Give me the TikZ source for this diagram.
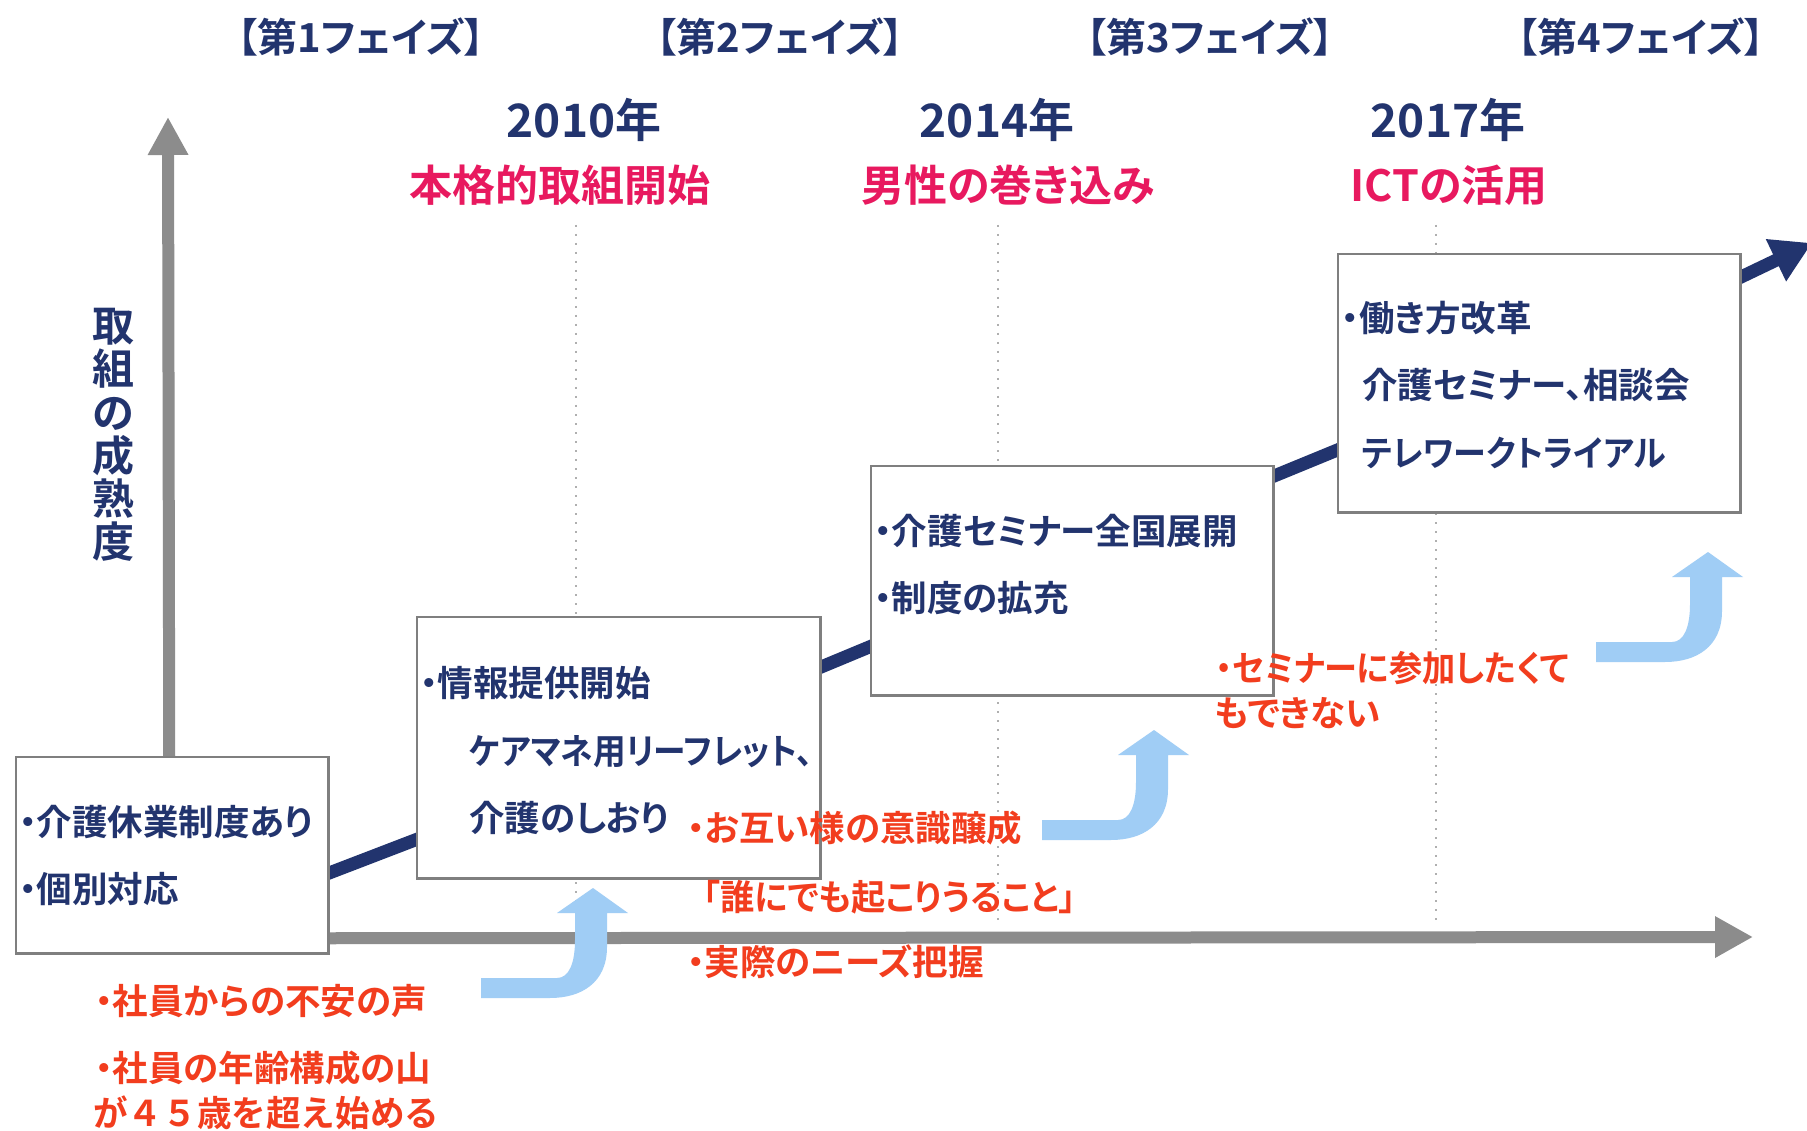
\documentclass[tikz,border=0pt]{standalone}
\usepackage{fontspec}
\setmainfont{Noto Sans CJK JP Bold}[RawFeature=+palt]
\newfontfamily\jpfull{Noto Sans CJK JP Bold}
\usetikzlibrary{arrows.meta}
\definecolor{navy}{HTML}{22346E}
\definecolor{pinkred}{HTML}{E8195F}
\definecolor{redor}{HTML}{F23D1E}
\definecolor{lblue}{HTML}{A0CDF5}
\definecolor{axisgray}{HTML}{8C8C8C}
\definecolor{boxgray}{HTML}{7F7F7F}
\tikzset{
  phase/.style={font=\fontsize{40}{46}\selectfont, text=navy, inner sep=0},
  year/.style={font=\fontsize{46}{52}\selectfont, text=navy, inner sep=0},
  theme/.style={font=\fontsize{43}{49}\selectfont, text=pinkred, inner sep=0},
  navytxt/.style={font=\fontsize{35.5}{42}\selectfont, text=navy, anchor=west, inner sep=0},
  redtxt/.style={font=\fontsize{35.5}{45}\selectfont, text=redor, anchor=west, inner sep=0},
  stagebox/.style={draw=boxgray, line width=2.5pt, fill=white, inner sep=0, anchor=north west},
  axisline/.style={draw=axisgray, line width=12pt},
  rise/.style={draw=navy, line width=13pt, shorten <=-8pt, shorten >=-8pt},
  guide/.style={draw=axisgray!70, line width=1.8pt, dash pattern=on 2pt off 7pt},
  bluearrow/.style={fill=lblue}
}
\begin{document}
\begin{tikzpicture}[x=1pt,y=-1pt]
\path[use as bounding box] (0,0) rectangle (1807,1131);
\fill[white] (0,0) rectangle (1807,1131);
\clip (0,0) rectangle (1807,1131);

% phase headers
\node[phase] (p1) at (361,37) {【第1フェイズ】};
\node[phase] (p2) at (780,37) {【第2フェイズ】};
\node[phase] (p3) at (1210,37) {【第3フェイズ】};
\node[phase] (p4) at (1641,37) {【第4フェイズ】};

% years and themes
\node[year] (y1) at (584,120) {2010年};
\node[year] (y2) at (997,120) {2014年};
\node[year] (y3) at (1448,120) {2017年};
\node[theme] (m1) at (560,185) {本格的取組開始};
\node[theme] (m2) at (1008,185) {男性の巻き込み};
\node[theme] (m3) at (1449,185) {ICTの活用};

% dotted guides
\coordinate (g1t) at (576,225); \coordinate (g1b) at (576,922);
\coordinate (g2t) at (998,225); \coordinate (g2b) at (998,922);
\coordinate (g3t) at (1436,225); \coordinate (g3b) at (1436,922);
\draw[guide] (g1t) -- (g1b);
\draw[guide] (g2t) -- (g2b);
\draw[guide] (g3t) -- (g3b);

% boxes (positions)
\node[stagebox, minimum width=310pt, minimum height=194pt] (b1) at (16,757) {};
\node[stagebox, minimum width=401pt, minimum height=259pt] (b2) at (417,617) {};
\node[stagebox, minimum width=400pt, minimum height=227pt] (b3) at (871,466) {};
\node[stagebox, minimum width=400pt, minimum height=256pt] (b4) at (1338,254) {};

% axes
\coordinate (vtip) at (168,117);
\coordinate (htip) at (1753,937);
\draw[axisline, -{Triangle[width=38pt,length=38pt]}] ([xshift=-3pt]b1.north) -- (vtip);
\draw[axisline, -{Triangle[width=39pt,length=38pt]}] ([yshift=-83pt]b1.east) -- (htip);

% light blue bent arrows
\foreach \ox/\oy in {481/998, 1042/840, 1596/662}{
  \fill[bluearrow, shift={(\ox,\oy)}] (0,0) -- (0,-20) -- (76,-20)
    .. controls (88,-20) and (94,-35) .. (94,-58) -- (94,-85) -- (76,-85)
    -- (112,-110) -- (147,-85) -- (126,-85) -- (126,-51)
    .. controls (126,-15) and (100,0) .. (69,0) -- cycle;
}

% navy rising line
\coordinate (navytip) at (1812,243);
\draw[rise] ([yshift=-18pt]b1.east) -- ([yshift=-91.5pt]b2.west);
\draw[rise] ([yshift=80.5pt]b2.east) -- ([yshift=-65.5pt]b3.west);
\draw[rise] ([yshift=104.5pt]b3.east) -- ([yshift=-66.5pt]b4.west);
\draw[draw=navy, line width=13pt, shorten <=-8pt, -{Triangle[width=44pt,length=40pt]}] ([yshift=106pt]b4.east) -- (navytip);

% redraw boxes on top of connector ends
\draw[draw=boxgray, line width=2.5pt, fill=white] (b1.north west) rectangle (b1.south east);
\draw[draw=boxgray, line width=2.5pt, fill=white] (b2.north west) rectangle (b2.south east);
\draw[draw=boxgray, line width=2.5pt, fill=white] (b3.north west) rectangle (b3.south east);
\draw[draw=boxgray, line width=2.5pt, fill=white] (b4.north west) rectangle (b4.south east);

% y axis label
\node[font=\fontsize{42}{43.3}\selectfont, text=navy, align=center, inner sep=0] (ylab) at (113,435) {取\\組\\の\\成\\熟\\度};

% box texts
\node[navytxt] (t1a) at (19,822) {・介護休業制度あり};
\node[navytxt] (t1b) at (19,889) {・個別対応};
\node[navytxt] (t2a) at (420,683) {・情報提供開始};
\node[navytxt] (t2b) at (469,752) {\scalebox{0.92}[1]{ケアマネ用リーフレット、}};
\node[navytxt] (t2c) at (469,818) {介護のしおり};
\node[navytxt] (t3a) at (874,531) {・介護セミナー全国展開};
\node[navytxt] (t3b) at (874,598) {・制度の拡充};
\node[navytxt] (t4a) at (1341,318) {・働き方改革};
\node[navytxt] (t4b) at (1362,385) {介護セミナー、相談会};
\node[navytxt] (t4c) at (1362,453) {\scalebox{0.93}[1]{テレワークトライアル}};

% red texts
\node[redtxt] (r1) at (95,1001) {・社員からの不安の声};
\node[redtxt] (r2) at (95,1068) {・社員の年齢構成の山};
\node[redtxt] (r3) at (93,1113) {\scalebox{0.975}[1]{\jpfull が４５歳を超え始める}};
\node[redtxt] (r4) at (687,828) {・お互い様の意識醸成};
\node[redtxt] (r5) at (703,897) {\scalebox{0.965}[1]{「誰にでも起こりうること」}};
\node[redtxt] (r6) at (687,962) {・実際のニーズ把握};
\node[redtxt] (r7) at (1216,668) {\scalebox{0.935}[1]{・セミナーに参加したくて}};
\node[redtxt] (r8) at (1215,713) {もできない};
\end{tikzpicture}
\end{document}
